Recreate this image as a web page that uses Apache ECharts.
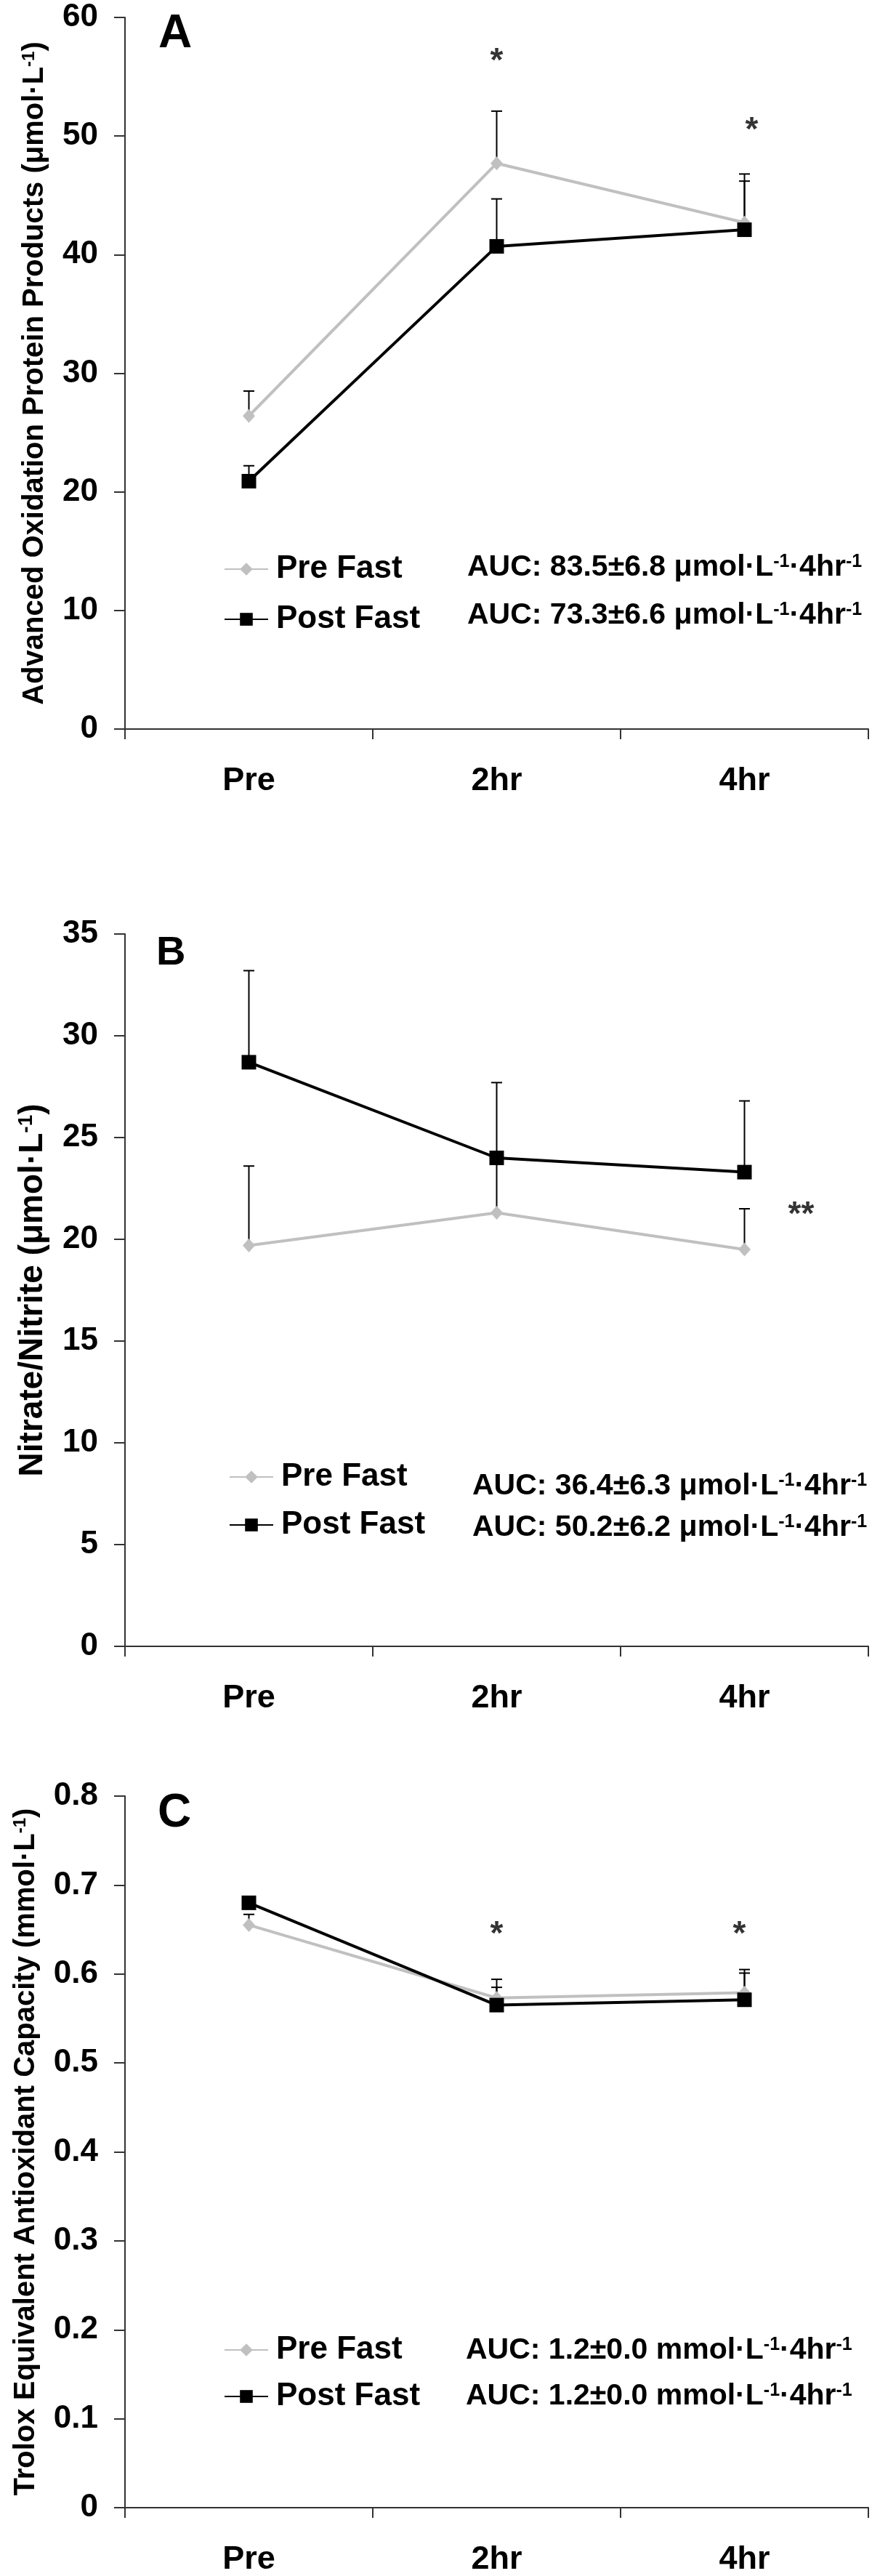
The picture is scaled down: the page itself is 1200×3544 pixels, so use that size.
<!DOCTYPE html>
<html><head><meta charset="utf-8">
<script src="https://cdn.jsdelivr.net/npm/echarts@6/dist/echarts.min.js"></script>
<style>html,body{margin:0;padding:0;background:#fff}#c{width:1200px;height:3544px}</style>
</head><body><div id="c"></div>
<script>
// ---------------- DATA ----------------
const categories = ['Pre', '2hr', '4hr'];
const seriesNames = ['Pre Fast', 'Post Fast'];

// Panel A: Advanced Oxidation Protein Products (µmol·L-1)
const preFastA = [26.4, 47.7, 42.7];
const preFastA_upper = [28.5, 52.1, 46.8];
const postFastA = [20.9, 40.7, 42.1];
const postFastA_upper = [22.2, 44.7, 46.2];
const sigA = [['2hr', 56.8, '*'], ['4hr', 51.0, '*']];
const aucA = [['83.5', '6.8'], ['73.3', '6.6']];
const ticksA = [0, 10, 20, 30, 40, 50, 60];

// Panel B: Nitrate/Nitrite (µmol·L-1)
const preFastB = [19.7, 21.3, 19.5];
const preFastB_upper = [23.6, 24.0, 21.5];
const postFastB = [28.7, 24.0, 23.3];
const postFastB_upper = [33.2, 27.7, 26.8];
const sigB = [['4hr', 21.5, '**']];
const aucB = [['36.4', '6.3'], ['50.2', '6.2']];
const ticksB = [0, 5, 10, 15, 20, 25, 30, 35];

// Panel C: Trolox Equivalent Antioxidant Capacity (mmol·L-1)
const preFastC = [0.655, 0.573, 0.579];
const preFastC_upper = [0.667, 0.594, 0.605];
const postFastC = [0.680, 0.565, 0.571];
const postFastC_upper = [0.683, 0.585, 0.601];
const sigC = [['2hr', 0.651, '*'], ['4hr', 0.651, '*']];
const aucC = [['1.2', '0.0'], ['1.2', '0.0']];
const ticksC = [0, 0.1, 0.2, 0.3, 0.4, 0.5, 0.6, 0.7, 0.8];

// ---------------- STYLE / LAYOUT ----------------
const FONT = 'Liberation Sans, Arial, Helvetica, sans-serif';
const GRAY = '#c0c0c0';
const AXIS = '#333';
const LEGEND_ITEM_H = 44;

const panels = [
  { letter: 'A', top: 24, height: 979, ticks: ticksA, pre: preFastA, preU: preFastA_upper, post: postFastA, postU: postFastA_upper,
    sig: sigA, sigDx: [0, 10], auc: aucA, unit: 'μmol', title: 'Advanced Oxidation Protein Products (μmol·L', titleSize: 40, nameGap: 104,
    letterPos: [218, 47], letterSize: 64, legendLeft: 303, legendRows: [778, 847], aucX: 643, aucRows: [781, 847] },
  { letter: 'B', top: 1285, height: 980, ticks: ticksB, pre: preFastB, preU: preFastB_upper, post: postFastB, postU: postFastB_upper,
    sig: sigB, sigDx: [78], auc: aucB, unit: 'μmol', title: 'Nitrate/Nitrite (μmol·L', titleSize: 46, nameGap: 104,
    letterPos: [215, 1312], letterSize: 56, legendLeft: 310, legendRows: [2027, 2093], aucX: 650, aucRows: [2045, 2102] },
  { letter: 'C', top: 2471, height: 979, ticks: ticksC, pre: preFastC, preU: preFastC_upper, post: postFastC, postU: postFastC_upper,
    sig: sigC, sigDx: [0, -7], auc: aucC, unit: 'mmol', title: 'Trolox Equivalent Antioxidant Capacity (mmol·L', titleSize: 40, nameGap: 116,
    letterPos: [217, 2495], letterSize: 64, legendLeft: 303, legendRows: [3228, 3292], aucX: 641, aucRows: [3234, 3297] }
];

const grid = [], xAxis = [], yAxis = [], series = [], legend = [], graphic = [];

function errorBarSeries(idx, vals, uppers) {
  return {
    type: 'custom', xAxisIndex: idx, yAxisIndex: idx, z: 1, silent: true,
    data: categories.map((c, i) => [i, vals[i], uppers[i]]),
    renderItem: function (params, api) {
      const p0 = api.coord([api.value(0), api.value(1)]);
      const p1 = api.coord([api.value(0), api.value(2)]);
      const hw = 7.5;
      return {
        type: 'group', children: [
          { type: 'line', shape: { x1: p0[0], y1: p0[1], x2: p1[0], y2: p1[1] }, style: { stroke: '#000', lineWidth: 2 } },
          { type: 'line', shape: { x1: p1[0] - hw, y1: p1[1], x2: p1[0] + hw, y2: p1[1] }, style: { stroke: '#000', lineWidth: 2 } }
        ]
      };
    }
  };
}

panels.forEach((p, idx) => {
  grid.push({ left: 172, width: 1023, top: p.top, height: p.height });
  xAxis.push({
    type: 'category', gridIndex: idx, data: categories, boundaryGap: true,
    axisLine: { lineStyle: { color: AXIS, width: 2 } },
    axisTick: { show: true, length: 14, inside: false, alignWithLabel: false, lineStyle: { color: AXIS, width: 2 } },
    axisLabel: { margin: 49, fontSize: 45, fontWeight: 'bold', color: '#000', fontFamily: FONT },
    splitLine: { show: false }
  });
  const t = p.ticks;
  yAxis.push({
    type: 'value', gridIndex: idx, min: t[0], max: t[t.length - 1], interval: t[1] - t[0],
    axisLine: { show: true, lineStyle: { color: AXIS, width: 2 } },
    axisTick: { show: true, length: 15, lineStyle: { color: AXIS, width: 2 } },
    axisLabel: { margin: 37, fontSize: 44, fontWeight: 'bold', color: '#000', fontFamily: FONT,
      formatter: v => String(Math.round(v * 10) / 10) },
    splitLine: { show: false },
    name: '{t|' + p.title + '}{s|-1}{t|)}',
    nameLocation: 'middle', nameGap: p.nameGap,
    nameTextStyle: {
      rich: {
        t: { fontSize: p.titleSize, fontWeight: 'bold', color: '#000', fontFamily: FONT },
        s: { fontSize: Math.round(p.titleSize * 0.6), fontWeight: 'bold', color: '#000', fontFamily: FONT, verticalAlign: 'top' }
      }
    }
  });
  series.push(errorBarSeries(idx, p.pre, p.preU));
  series.push(errorBarSeries(idx, p.post, p.postU));
  series.push({
    name: seriesNames[0], type: 'line', xAxisIndex: idx, yAxisIndex: idx, z: 3, data: p.pre,
    symbol: 'diamond', symbolSize: [17, 19], showAllSymbol: true,
    lineStyle: { color: GRAY, width: 4 }, itemStyle: { color: GRAY }, emphasis: { disabled: true }
  });
  series.push({
    name: seriesNames[1], type: 'line', xAxisIndex: idx, yAxisIndex: idx, z: 4, data: p.post,
    symbol: 'rect', symbolSize: 20, showAllSymbol: true,
    lineStyle: { color: '#000', width: 4 }, itemStyle: { color: '#000' }, emphasis: { disabled: true }
  });
  series.push({
    type: 'scatter', xAxisIndex: idx, yAxisIndex: idx, z: 5, silent: true,
    symbolSize: 1, itemStyle: { color: 'rgba(0,0,0,0)' },
    data: p.sig.map((s, i) => ({ value: [s[0], s[1]], label: { formatter: s[2], offset: [p.sigDx[i] || 0, 9] } })),
    label: { show: true, position: 'inside', fontSize: 46, fontWeight: 'bold', color: '#000', fontFamily: FONT }
  });
  legend.push({
    data: seriesNames, orient: 'vertical', left: p.legendLeft, top: p.legendRows[0] - LEGEND_ITEM_H / 2,
    itemWidth: 60, itemHeight: 22, itemGap: (p.legendRows[1] - p.legendRows[0]) - LEGEND_ITEM_H,
    selectedMode: false,
    textStyle: { fontSize: 44, fontWeight: 'bold', color: '#000', fontFamily: FONT, padding: [0, 0, 0, 6] }
  });
  graphic.push({
    type: 'text', left: p.letterPos[0], top: p.letterPos[1] - p.letterSize / 2,
    style: { text: p.letter, fontSize: p.letterSize, fontWeight: 'bold', fill: '#000', font: 'bold ' + p.letterSize + 'px ' + FONT }
  });
  p.auc.forEach((a, i) => {
    graphic.push({
      type: 'text', x: p.aucX, y: p.aucRows[i],
      style: {
        text: '{t|AUC: ' + a[0] + '±' + a[1] + ' ' + p.unit + '·L}{s|-1}{t|·4hr}{s|-1}',
        verticalAlign: 'middle', align: 'left',
        rich: {
          t: { fontSize: 41, fontWeight: 'bold', fill: '#000', fontFamily: FONT },
          s: { fontSize: 25, fontWeight: 'bold', fill: '#000', fontFamily: FONT, verticalAlign: 'top' }
        }
      }
    });
  });
});

const chart = echarts.init(document.getElementById('c'), null, { renderer: 'canvas' });
chart.setOption({
  animation: false, backgroundColor: '#fff',
  grid, xAxis, yAxis, series, legend, graphic
});
</script></body></html>
